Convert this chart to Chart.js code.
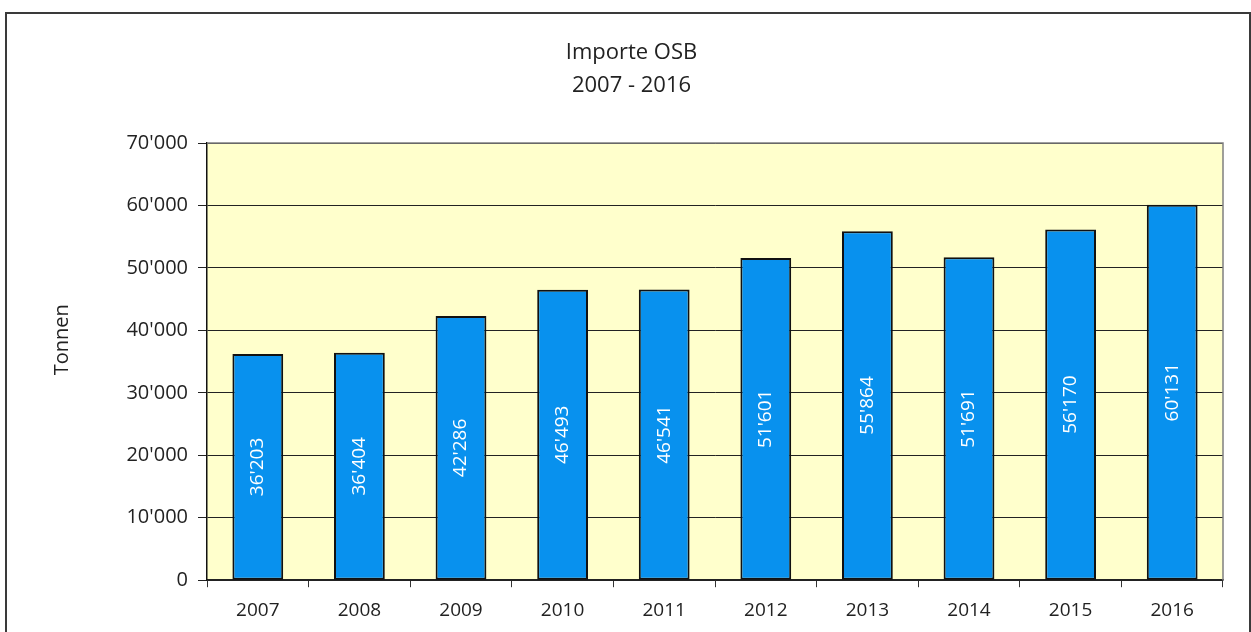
<!DOCTYPE html>
<html>
<head>
<meta charset="utf-8">
<script src="https://cdn.jsdelivr.net/npm/chart.js@4/dist/chart.umd.min.js"></script>
<style>
  html, body { margin: 0; padding: 0; background: #fff; overflow: hidden; }
  #wrap { position: relative; width: 1251px; height: 632px; }
  #frame { position: absolute; left: 5px; top: 12px; width: 1246px; height: 700px;
           box-sizing: border-box; border: 2px solid #3a3a3a; pointer-events: none; }
  canvas { position: absolute; left: 0; top: 0; }
</style>
</head>
<body>
<div id="wrap">
  <canvas id="c" width="1251" height="632"></canvas>
  <div id="frame"></div>
</div>
<script>
const titleLines = ['Importe OSB', '2007 - 2016'];
const yAxisTitle = 'Tonnen';
const years = ['2007', '2008', '2009', '2010', '2011', '2012', '2013', '2014', '2015', '2016'];
const imports = [36203, 36404, 42286, 46493, 46541, 51601, 55864, 51691, 56170, 60131];
const yMin = 0, yMax = 70000, yStep = 10000;

const FONT = "'Open Sans', 'Liberation Sans', sans-serif";
const fmt = v => {
  const s = String(Math.round(v));
  return s.replace(/\B(?=(\d{3})+(?!\d))/g, "'");
};

const plotArea = {
  id: 'plotArea',
  beforeDraw(chart) {
    const a = chart.chartArea, ctx = chart.ctx;
    ctx.save();
    ctx.fillStyle = '#FFFFCC';
    ctx.fillRect(a.left, a.top, a.right - a.left, a.bottom - a.top);
    ctx.restore();
  },
  afterDraw(chart) {
    const a = chart.chartArea, ctx = chart.ctx;
    ctx.save();
    ctx.strokeStyle = '#808080';
    ctx.lineWidth = 1.5;
    ctx.beginPath();
    ctx.moveTo(a.left, a.top);
    ctx.lineTo(a.right, a.top);
    ctx.lineTo(a.right, a.bottom);
    ctx.stroke();
    // y axis title
    ctx.fillStyle = '#222';
    ctx.font = "20px " + FONT;
    ctx.textAlign = 'center';
    ctx.textBaseline = 'middle';
    ctx.translate(62, a.top + (a.bottom - a.top) * 0.45);
    ctx.rotate(-Math.PI / 2);
    ctx.fillText(yAxisTitle, 0, 0);
    ctx.restore();
  }
};

const barLabels = {
  id: 'barLabels',
  afterDatasetsDraw(chart) {
    const ctx = chart.ctx;
    const meta = chart.getDatasetMeta(0);
    ctx.save();
    ctx.fillStyle = '#ffffff';
    ctx.font = "19px " + FONT;
    ctx.textAlign = 'center';
    ctx.textBaseline = 'middle';
    meta.data.forEach((bar, i) => {
      const v = chart.data.datasets[0].data[i];
      ctx.save();
      ctx.translate(bar.x, (bar.y + bar.base) / 2);
      ctx.rotate(-Math.PI / 2);
      ctx.fillText(fmt(v), 0, 0);
      ctx.restore();
    });
    ctx.restore();
  }
};

new Chart(document.getElementById('c'), {
  type: 'bar',
  data: {
    labels: years,
    datasets: [{
      data: imports,
      backgroundColor: '#0891EE',
      borderColor: '#111111',
      borderWidth: 2,
      borderSkipped: false,
      categoryPercentage: 1.0,
      barPercentage: 0.5
    }]
  },
  options: {
    responsive: false,
    animation: false,
    layout: { padding: { left: 40, right: 28, top: 0, bottom: -2 } },
    plugins: {
      legend: { display: false },
      tooltip: { enabled: false },
      title: {
        display: true,
        text: titleLines,
        color: '#222',
        font: { family: FONT, size: 22, weight: 'normal', lineHeight: 1.5 },
        padding: { top: 36, bottom: 41 }
      }
    },
    scales: {
      x: {
        offset: true,
        grid: { display: true, drawOnChartArea: false, drawTicks: true, tickLength: 7, color: '#333', offset: true },
        border: { display: true, color: '#222', width: 1.5 },
        ticks: { color: '#222', font: { family: FONT, size: 19 }, padding: 12, maxRotation: 0 }
      },
      y: {
        min: yMin, max: yMax,
        afterFit(scale) { scale.width = 167; },
        grid: { color: '#222', lineWidth: 1, drawTicks: true, tickLength: 9 },
        border: { display: true, color: '#111', width: 1.5 },
        ticks: { stepSize: yStep, color: '#222', font: { family: FONT, size: 20 }, padding: 10,
                 callback: v => fmt(v) }
      }
    }
  },
  plugins: [plotArea, barLabels]
});
</script>
</body>
</html>
